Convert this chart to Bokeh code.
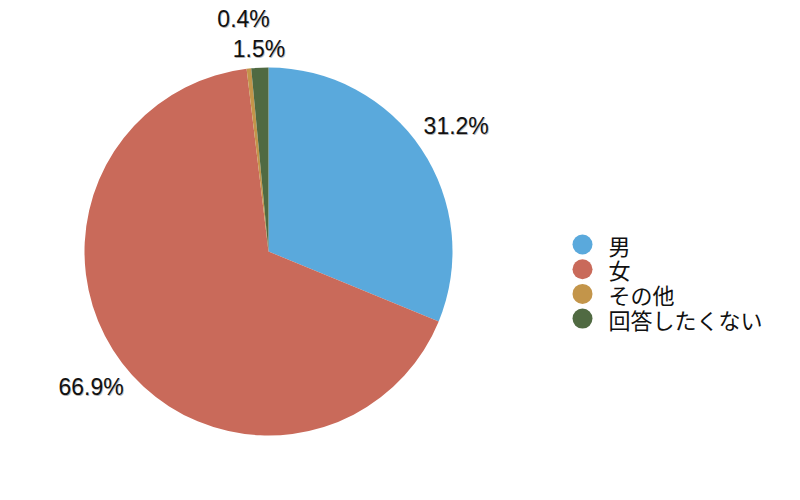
import numpy as np
from bokeh.plotting import figure
from bokeh.models import ColumnDataSource, Range1d
from bokeh.core.properties import value
from bokeh.embed import file_html
from bokeh.resources import INLINE

categories = ["男", "女", "その他", "回答したくない"]
shares = [31.2, 66.9, 0.4, 1.5]
label_texts = ["31.2%", "66.9%", "0.4%", "1.5%"]
colors = ["#5aa9dc", "#c96a5a", "#c3954a", "#506a42"]

W, H = 784, 484
cx, cy, R = 268, 233, 184
label_radius = [226, 223, 234, 203]

vals = np.array(shares) / np.sum(shares) * 2 * np.pi
ends = np.pi / 2 - np.cumsum(vals)
starts = ends + vals
mids = (starts + ends) / 2

p = figure(width=W, height=H, output_backend="svg", toolbar_location=None,
           x_range=Range1d(0, W), y_range=Range1d(0, H), min_border=0)
p.axis.visible = False
p.grid.visible = False
p.outline_line_color = None

src = ColumnDataSource(dict(start=ends, end=starts, color=colors, cat=categories))
p.wedge(x=cx, y=cy, radius=R, start_angle="start", end_angle="end",
        color="color", line_color=None, source=src)

lx = cx + np.array(label_radius) * np.cos(mids)
ly = cy + np.array(label_radius) * np.sin(mids)
num_font = value("Liberation Sans")
font = value("Noto Sans CJK JP")
# soft shadow
for dx, dy, a in [(1, -1, 0.22), (0, -1.5, 0.12)]:
    p.text(x=lx + dx, y=ly + dy, text=label_texts, text_font=num_font, text_font_size="23px",
           text_align="center", text_baseline="middle", text_color="#000000", text_alpha=a)
p.text(x=lx, y=ly, text=label_texts, text_font=num_font, text_font_size="23px",
       text_align="center", text_baseline="middle", text_color="#111111")

leg_y = 240 - np.arange(len(categories)) * 24.7
p.scatter(x=[582] * len(categories), y=leg_y, size=20, marker="circle",
          color=colors, line_color=None)
p.text(x=[608] * len(categories), y=leg_y, text=categories, text_font=font,
       text_font_size="22px", text_align="left", text_baseline="middle", text_color="#111111")

open("out.html", "w").write(file_html(p, INLINE))
